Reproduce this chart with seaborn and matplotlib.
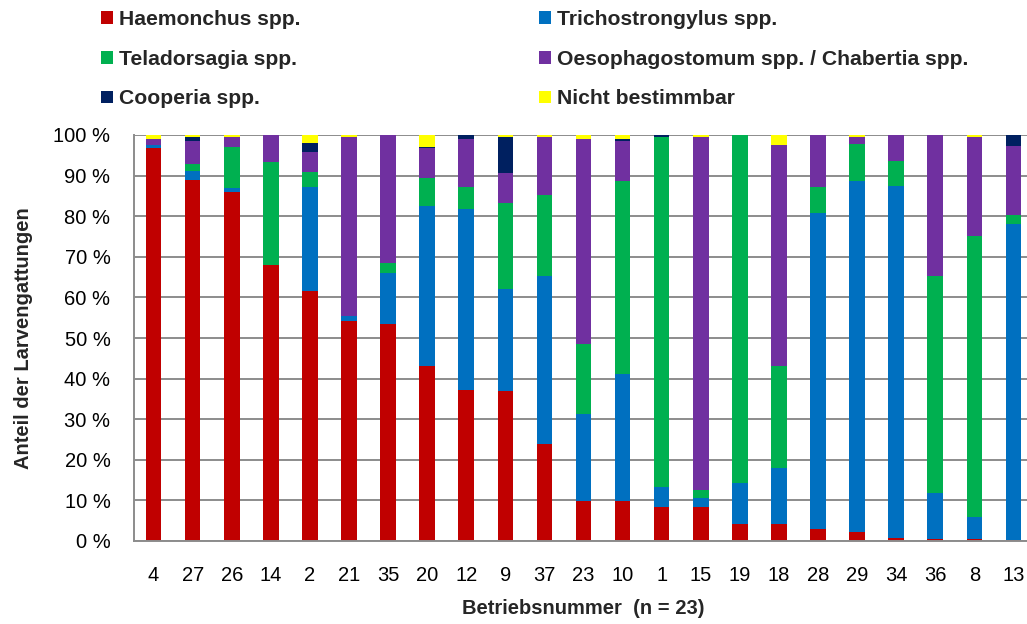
import numpy as np
import pandas as pd
import matplotlib
matplotlib.use("Agg")
import matplotlib.pyplot as plt
from matplotlib.patches import Patch
import seaborn as sns

# ---- data ----
betriebe = ["4", "27", "26", "14", "2", "21", "35", "20", "12", "9", "37", "23",
            "10", "1", "15", "19", "18", "28", "29", "34", "36", "8", "13"]

haemonchus = [96.9, 88.9, 86.0, 67.9, 61.6, 54.3, 53.5, 43.0, 37.2, 36.9, 24.0, 9.9,
              9.9, 8.4, 8.4, 4.3, 4.1, 3.0, 2.3, 0.8, 0.4, 0.5, 0.2]
trichostrongylus = [0.7, 2.3, 1.0, 0.0, 25.7, 1.1, 12.6, 39.6, 44.6, 25.1, 41.2, 21.5,
                    31.3, 4.9, 2.3, 9.9, 13.8, 77.7, 86.4, 86.7, 11.5, 5.3, 77.9]
teladorsagia = [0.0, 1.6, 10.0, 25.4, 3.7, 0.0, 2.4, 6.7, 5.4, 21.3, 20.1, 17.2,
                47.5, 86.2, 1.9, 85.8, 25.2, 6.4, 9.2, 6.1, 53.3, 69.3, 2.3]
oesophagostomum = [1.4, 5.8, 2.5, 6.7, 4.8, 44.1, 31.5, 7.4, 11.9, 7.4, 14.2, 50.4,
                   9.8, 0.0, 86.9, 0.0, 54.4, 12.9, 1.6, 6.4, 34.8, 24.4, 16.9]
cooperia = [0.0, 0.9, 0.0, 0.0, 2.2, 0.0, 0.0, 0.4, 0.9, 8.8, 0.0, 0.0,
            0.4, 0.5, 0.0, 0.0, 0.0, 0.0, 0.0, 0.0, 0.0, 0.0, 2.7]
nicht_bestimmbar = [1.0, 0.5, 0.5, 0.0, 2.0, 0.5, 0.0, 2.9, 0.0, 0.5, 0.5, 1.0,
                    1.1, 0.0, 0.5, 0.0, 2.5, 0.0, 0.5, 0.0, 0.0, 0.5, 0.0]

series_names = ["Haemonchus spp.", "Trichostrongylus spp.", "Teladorsagia spp.",
                "Oesophagostomum spp. / Chabertia spp.", "Cooperia spp.", "Nicht bestimmbar"]
series_values = [haemonchus, trichostrongylus, teladorsagia, oesophagostomum,
                 cooperia, nicht_bestimmbar]
colors = ["#C00000", "#0070C0", "#00B050", "#7030A0", "#002060", "#FFFF00"]

y_ticks = list(range(0, 101, 10))
y_ticklabels = [f"{v} %" for v in y_ticks]

# ---- style ----
sns.set_theme(style="white")
plt.rcParams["font.family"] = ["Liberation Sans", "DejaVu Sans"]
grid_col = "#8C8C8C"

fig = plt.figure(figsize=(10.27, 6.24), dpi=100)
W, H = 1027, 624
ax_left, ax_right, ax_top, ax_bottom = 134, 1033, 135, 541
ax = fig.add_axes([ax_left / W, 1 - ax_bottom / H,
                   (ax_right - ax_left) / W, (ax_bottom - ax_top) / H])

bottom = np.zeros(len(betriebe))
for name, vals, col in zip(series_names, series_values, colors):
    df = pd.DataFrame({"Betrieb": betriebe, "Anteil": vals})
    sns.barplot(data=df, x="Betrieb", y="Anteil", order=betriebe, color=col,
                errorbar=None, width=0.4, bottom=bottom.copy(), ax=ax,
                saturation=1, linewidth=0)
    bottom += np.array(vals)

ax.set_xlim(-0.5, len(betriebe) - 0.5)
ax.set_ylim(0, 100)
ax.set_yticks(y_ticks)
ax.set_yticklabels(y_ticklabels)
ax.set_axisbelow(True)
ax.yaxis.grid(True, color=grid_col, linewidth=1.4)
ax.xaxis.grid(False)

for s in ["top", "right"]:
    ax.spines[s].set_visible(False)
for s in ["left", "bottom"]:
    ax.spines[s].set_color(grid_col)
    ax.spines[s].set_linewidth(1.4)

ax.set_xticks(np.arange(-0.5, len(betriebe), 1.0), minor=True)
ax.tick_params(axis="x", which="major", length=0, pad=18, labelsize=14.5, colors="black")
ax.tick_params(axis="x", which="minor", length=4, width=1.4, color=grid_col, direction="out")
ax.tick_params(axis="y", which="major", length=4, width=1.4, color=grid_col,
               direction="out", pad=13, labelsize=14.5, labelcolor="black")

ax.set_xlabel("Betriebsnummer  (n = 23)", fontsize=14.5, fontweight="bold", labelpad=10)
ax.set_ylabel("Anteil der Larvengattungen", fontsize=14.5, fontweight="bold", labelpad=15)

# legend: two columns, three rows
handles = [Patch(facecolor=c, edgecolor="none") for c in colors]
leg_kw = dict(frameon=False, handlelength=0.55, handleheight=0.55,
              handletextpad=0.3, labelspacing=0.98, borderpad=0, borderaxespad=0,
              loc="upper left", prop={"weight": "bold", "size": 15.2})
leg1 = fig.legend([handles[0], handles[2], handles[4]],
                  [series_names[0], series_names[2], series_names[4]],
                  bbox_to_anchor=(101 / W, 1 - 10 / H), **leg_kw)
leg2 = fig.legend([handles[1], handles[3], handles[5]],
                  [series_names[1], series_names[3], series_names[5]],
                  bbox_to_anchor=(539 / W, 1 - 10 / H), **leg_kw)

fig.savefig("out.png", dpi=100)
